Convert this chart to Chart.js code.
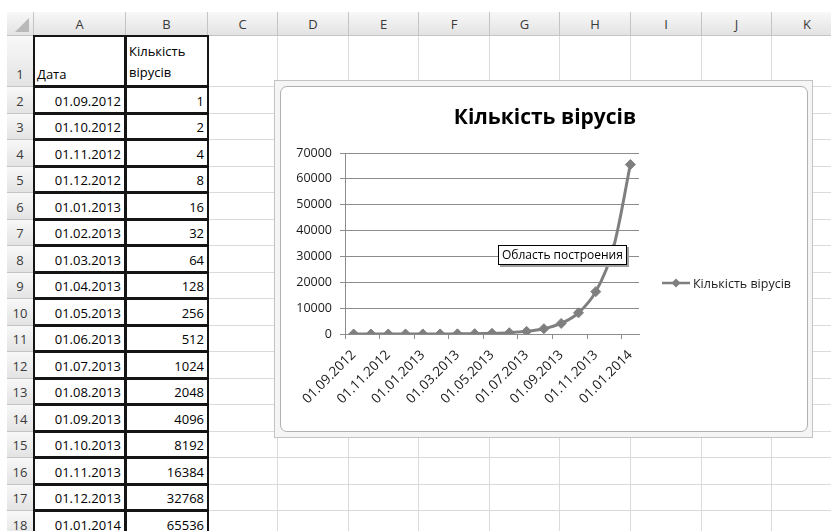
<!DOCTYPE html>
<html>
<head>
<meta charset="utf-8">
<script src="https://cdn.jsdelivr.net/npm/chart.js@4/dist/chart.umd.min.js"></script>
<style>
  html, body { margin: 0; padding: 0; background: #fff; }
  body { width: 831px; height: 531px; position: relative; overflow: hidden; font-family: 'Open Sans', sans-serif; }
  .gl { position: absolute; background: #dadada; }
  .hdr { position: absolute; box-sizing: border-box; background: linear-gradient(#f8f8f8, #e3e3e3);
         border-right: 1px solid #c4c4c4; border-bottom: 1px solid #c4c4c4; color: #3a3a3a; font-size: 13px;
         display: flex; justify-content: center; }
  .cell { position: absolute; box-sizing: border-box; border: 2px solid #151515; font-size: 13px; color: #000;
          white-space: nowrap; display: flex; align-items: flex-end; line-height: 18px; padding: 0 3px 2px 2px; }
  .num { justify-content: flex-end; }
  #frame { position: absolute; left: 274px; top: 80px; width: 539px; height: 358px; box-sizing: border-box;
           border: 1px solid #c3c3c3; background: #f5f5f5; }
  #inner { position: absolute; left: 280px; top: 86px; width: 528px; height: 346px; box-sizing: border-box;
           border: 1px solid #b0b0b0; border-radius: 7px; background: #fff; }
  #chart { position: absolute; left: 280px; top: 86px; }
  .dot { position: absolute; width: 2px; height: 2px; background: #8a8a8a; }
  #tip { position: absolute; left: 498px; top: 245px; height: 20px; box-sizing: border-box; padding: 0 3px;
         border: 1px solid #000; background: #fff; box-shadow: 2px 2px 0 #a0a0a0; font-size: 12px;
         line-height: 18px; color: #000; white-space: nowrap; }
</style>
</head>
<body>
<div id="sheet"></div>
<div id="frame"></div>
<div id="inner"></div>
<canvas id="chart" width="528" height="346"></canvas>
<div id="tip">Область построения</div>
<script>
// ─── data ─────────────────────────────────────────────────────────────────────
const dates = ['01.09.2012', '01.10.2012', '01.11.2012', '01.12.2012', '01.01.2013', '01.02.2013',
  '01.03.2013', '01.04.2013', '01.05.2013', '01.06.2013', '01.07.2013', '01.08.2013',
  '01.09.2013', '01.10.2013', '01.11.2013', '01.12.2013', '01.01.2014'];
const viruses = [1, 2, 4, 8, 16, 32, 64, 128, 256, 512, 1024, 2048, 4096, 8192, 16384, 32768, 65536];
const yTickValues = [0, 10000, 20000, 30000, 40000, 50000, 60000, 70000];
const headDate = 'Дата';
const headCount = 'Кількість вірусів';
const colNames = ['A', 'B', 'C', 'D', 'E', 'F', 'G', 'H', 'I', 'J', 'K', 'L'];

// ─── spreadsheet ──────────────────────────────────────────────────────────────
const sheet = document.getElementById('sheet');
const colEdges = [7, 34, 126, 208, 278, 349, 419, 490, 560, 631, 702, 772, 843];
const rowTop = n => (n === 1 ? 36 : 87 + (n - 2) * 26.5);
const rowH = n => rowTop(n + 1) - rowTop(n);

function box(cls, l, t, w, h, html) {
  const d = document.createElement('div');
  d.className = cls;
  Object.assign(d.style, { left: l + 'px', top: t + 'px', width: w + 'px', height: h + 'px' });
  if (html !== undefined) d.innerHTML = html;
  sheet.appendChild(d);
  return d;
}

// grid lines
for (let i = 1; i < colEdges.length; i++) box('gl', colEdges[i] - 1, 36, 1, 495);
for (let n = 1; n <= 18; n++) box('gl', 34, rowTop(n + 1) - 1, 797, 1);

// column headers
const corner = box('hdr', 7, 12, 27, 24);
corner.innerHTML = '<svg width="26" height="23" style="position:absolute;left:0;top:0"><polygon points="22,6 22,20 8,20" fill="#b9b9b9"/></svg>';
for (let i = 0; i < colNames.length; i++) {
  const d = box('hdr', colEdges[i + 1], 12, colEdges[i + 2] - colEdges[i + 1], 24, colNames[i]);
  d.style.alignItems = 'center';
}
// row headers
for (let n = 1; n <= 18; n++) {
  const d = box('hdr', 7, rowTop(n), 27, rowH(n), String(n));
  d.style.alignItems = 'flex-end';
  d.style.paddingBottom = '3px';
  d.style.lineHeight = '18px';
}

// bordered table A1:B18
box('cell', 33, rowTop(1) - 1, 93, rowH(1) + 1, headDate);
const b1 = box('cell', 125, rowTop(1) - 1, 84, rowH(1) + 1, headCount.replace(' ', '<br>'));
b1.style.lineHeight = '21px';
dates.forEach((d, i) => {
  const n = i + 2;
  box('cell num', 33, rowTop(n) - 1, 93, rowH(n) + 1, d);
  box('cell num', 125, rowTop(n) - 1, 84, rowH(n) + 1, String(viruses[i]));
});

// selection handle dots around the chart object
function dots(x, y, dx, dy, k) {
  for (let i = 0; i < k; i++) box('dot', x + i * dx, y + i * dy, 2, 2);
}
dots(277, 82, 3, 0, 2); dots(277, 85, 3, 0, 2);
dots(806, 82, 3, 0, 2); dots(806, 85, 3, 0, 2);
dots(277, 431, 3, 0, 2); dots(277, 434, 3, 0, 2);
dots(806, 431, 3, 0, 2); dots(806, 434, 3, 0, 2);
dots(537, 82, 3, 0, 5); dots(537, 434, 3, 0, 5);
dots(276, 253, 0, 3, 5); dots(810, 253, 0, 3, 5);

// ─── chart ────────────────────────────────────────────────────────────────────
const GRAY = '#7f7f7f';
const AXIS = '#8c8c8c';

// title centred on the whole chart object, legend at the right
const chartDecor = {
  id: 'chartDecor',
  afterDraw(chart) {
    const ctx = chart.ctx;
    ctx.save();
    ctx.fillStyle = '#000';
    ctx.font = "bold 21px 'Open Sans', sans-serif";
    ctx.textAlign = 'center';
    ctx.textBaseline = 'middle';
    ctx.fillText(headCount, chart.width / 2 + 1, 32);

    const y = 197, x0 = 382, x1 = 410, xm = (x0 + x1) / 2, r = 4.5;
    ctx.strokeStyle = GRAY;
    ctx.lineWidth = 2.5;
    ctx.beginPath(); ctx.moveTo(x0, y); ctx.lineTo(x1, y); ctx.stroke();
    ctx.fillStyle = GRAY;
    ctx.beginPath();
    ctx.moveTo(xm, y - r); ctx.lineTo(xm + r, y); ctx.lineTo(xm, y + r); ctx.lineTo(xm - r, y);
    ctx.closePath(); ctx.fill();
    ctx.fillStyle = '#1e1e1e';
    ctx.font = "12.5px 'Open Sans', sans-serif";
    ctx.textAlign = 'left';
    ctx.fillText(chart.data.datasets[0].label, x1 + 3, y + 1);
    ctx.restore();
  },
};

new Chart(document.getElementById('chart'), {
  type: 'line',
  data: {
    labels: dates,
    datasets: [{
      label: headCount,
      data: viruses,
      borderColor: GRAY,
      borderWidth: 3,
      tension: 0.3,
      pointStyle: 'rectRot',
      pointRadius: 5,
      pointBackgroundColor: GRAY,
      pointBorderColor: GRAY,
      pointBorderWidth: 1,
    }],
  },
  options: {
    responsive: false,
    devicePixelRatio: 1,
    animation: false,
    layout: { padding: { left: 0, right: 169, top: 67, bottom: 0 } },
    plugins: {
      legend: { display: false },
      tooltip: { enabled: false },
      title: { display: false },
    },
    scales: {
      x: {
        offset: true,
        afterFit: s => { s.height = 98; },
        grid: {
          offset: true,
          drawOnChartArea: false,
          tickLength: 5,
          color: c => (c.index % 2 === 0 ? AXIS : 'rgba(0,0,0,0)'),
        },
        border: { display: true, color: AXIS },
        ticks: {
          autoSkip: false,
          minRotation: 45,
          maxRotation: 45,
          padding: 8,
          color: '#1a1a1a',
          font: { family: "'Open Sans', sans-serif", size: 13.5 },
          callback: (v, i) => (i % 2 === 0 ? dates[i] : ''),
        },
      },
      y: {
        min: 0,
        max: 70000,
        afterFit: s => { s.width = 65; },
        afterBuildTicks: s => { s.ticks = yTickValues.map(v => ({ value: v })); },
        grid: { color: AXIS, tickLength: 5 },
        border: { display: true, color: AXIS },
        ticks: {
          padding: 8,
          color: '#1a1a1a',
          font: { family: "'Open Sans', sans-serif", size: 12.5 },
          callback: v => String(v),
        },
      },
    },
  },
  plugins: [chartDecor],
});
</script>
</body>
</html>
